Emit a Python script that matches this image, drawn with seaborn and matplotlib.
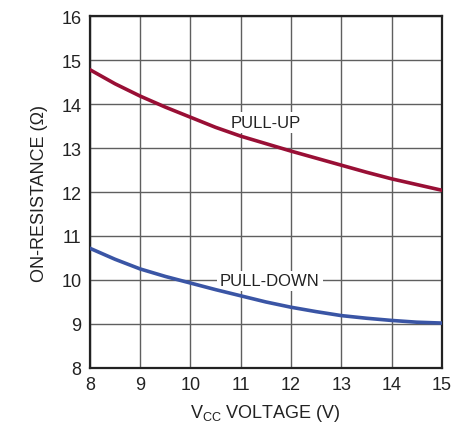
import matplotlib
matplotlib.use('Agg')
import matplotlib.pyplot as plt
import seaborn as sns
import pandas as pd

# values (every half volt)
vcc = [8.0, 8.5, 9.0, 9.5, 10.0, 10.5, 11.0, 11.5, 12.0, 12.5, 13.0, 13.5, 14.0, 14.5, 15.0]
pull_up = [14.78, 14.46, 14.18, 13.93, 13.70, 13.47, 13.27, 13.10, 12.93, 12.77, 12.61, 12.45, 12.30, 12.17, 12.04]
pull_down = [10.72, 10.47, 10.25, 10.08, 9.93, 9.78, 9.64, 9.50, 9.38, 9.28, 9.19, 9.13, 9.08, 9.04, 9.02]

x_ticks = [8, 9, 10, 11, 12, 13, 14, 15]
y_ticks = [8, 9, 10, 11, 12, 13, 14, 15, 16]

df = pd.DataFrame({
    "vcc": vcc * 2,
    "res": pull_up + pull_down,
    "curve": ["PULL-UP"] * len(vcc) + ["PULL-DOWN"] * len(vcc),
})

sns.set_style("white")
plt.rcParams['font.family'] = ['Liberation Sans Narrow', 'Liberation Sans', 'DejaVu Sans']

fig, ax = plt.subplots(figsize=(4.71, 4.27), dpi=100)
fig.subplots_adjust(left=0.191, right=0.938, top=0.960, bottom=0.136)

sns.lineplot(data=df, x="vcc", y="res", hue="curve",
             palette={"PULL-UP": "#990f35", "PULL-DOWN": "#3a55a5"},
             linewidth=2.6, legend=False, ax=ax, zorder=3)

ax.set_xlim(8, 15)
ax.set_ylim(8, 16)
ax.set_xticks(x_ticks)
ax.set_yticks(y_ticks)
ax.tick_params(length=0, labelsize=13, pad=6, colors="#222222")
ax.set_axisbelow(True)
ax.grid(True, color="#5f5f5f", linewidth=1.0)
for s in ax.spines.values():
    s.set_color("#222222")
    s.set_linewidth(1.6)

# labels sit under the curves but over the grid
bbox = dict(facecolor="white", edgecolor="none", pad=2)
ax.text(11.5, 13.58, "PULL-UP", ha="center", va="center", fontsize=12,
        color="#222222", bbox=bbox, zorder=2)
ax.text(11.58, 9.98, "PULL-DOWN", ha="center", va="center", fontsize=12,
        color="#222222", bbox=bbox, zorder=2)

ax.set_xlabel(r"V$_{\mathregular{CC}}$ VOLTAGE (V)", fontsize=13, color="#222222", labelpad=6)
ax.set_ylabel("ON-RESISTANCE (Ω)", fontsize=13, color="#222222", labelpad=10)

fig.savefig("out.png", dpi=100)
plt.close(fig)
